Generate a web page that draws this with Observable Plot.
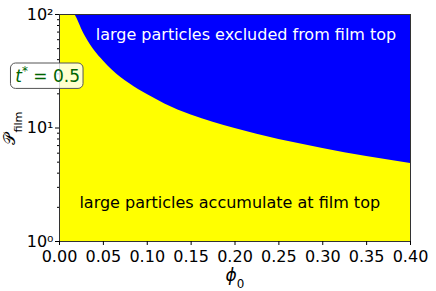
<!DOCTYPE html>
<html><head><meta charset="utf-8">
<script src="https://cdn.jsdelivr.net/npm/d3@7"></script>
<script src="https://cdn.jsdelivr.net/npm/@observablehq/plot@0.6"></script>
<style>body{margin:0;background:#fff}</style>
</head><body><div id="chart"></div>
<script>
// boundary curve
const phi   = [0.0175, 0.02, 0.025, 0.03, 0.04, 0.05, 0.06, 0.08, 0.10, 0.12, 0.15, 0.20, 0.25, 0.30, 0.35, 0.40];
const pFilm = [100,    92,   75,    63,   48,   39,   32.5, 24.5, 19.7, 16.3, 13.0, 9.9,  7.9,  6.6,  5.6,  4.87];
const xTicks = [0, 0.05, 0.10, 0.15, 0.20, 0.25, 0.30, 0.35, 0.40];
const yTicks = [1, 10, 100];
const yTickLabels = ["10⁰", "10¹", "10²"];
const yMinor = [2,3,4,5,6,7,8,9,20,30,40,50,60,70,80,90];
const regionLabels = ["large particles excluded from film top", "large particles accumulate at film top"];
const regionLabelColors = ["white", "black"];
const regionLabelPhi = [0.2125, 0.194];
const regionLabelP = [66, 2.2];
const timeLabel = "t* = 0.5";
const xLabel = "ϕ0";
const yLabel = "𝒫film";

const curve = phi.map((x, i) => ({phi: x, p: pFilm[i]}));
const labels = regionLabels.map((t, i) => ({t, c: regionLabelColors[i], x: regionLabelPhi[i], y: regionLabelP[i]}));

const chart = Plot.plot({
  width: 436, height: 291,
  marginLeft: 59, marginRight: 26, marginTop: 14, marginBottom: 50,
  style: {fontFamily: "DejaVu Sans", fontSize: "15px", background: "white", color: "black", overflow: "visible"},
  x: {domain: [0, 0.4]},
  y: {type: "log", domain: [1, 100]},
  marks: [
    Plot.frame({fill: "yellow", stroke: null}),
    Plot.areaY(curve, {x: "phi", y1: "p", y2: 100, fill: "blue", curve: "monotone-x"}),
    Plot.frame({stroke: "#333", strokeWidth: 1}),
    Plot.axisX({ticks: xTicks, tickFormat: d3.format(".2f"), tickSize: 4, tickPadding: 5, label: null, fontSize: 16}),
    Plot.axisY({ticks: yTicks, tickFormat: (d) => yTickLabels[yTicks.indexOf(d)], tickSize: 4, tickPadding: 2, label: null, fontSize: 16}),
    Plot.axisY({ticks: yMinor, tickFormat: () => "", tickSize: 2, label: null}),
    Plot.text(labels, {x: "x", y: "y", text: "t", fill: "c", fontSize: 16}),
    Plot.rect([0], {x1: -0.0553, x2: 0.0274, y1: 22.1, y2: 37, rx: 5, fill: "white", fillOpacity: 0.8, stroke: "#555", strokeWidth: 1, clip: false}),
    Plot.text([timeLabel], {x: -0.0135, y: 28.6, text: d => d, fill: "#006400", fontSize: 17}),
    Plot.text([xLabel], {frameAnchor: "bottom", dy: 39, text: d => d, fontSize: 17}),
    Plot.text([yLabel], {frameAnchor: "left", dx: -50, rotate: -90, textAnchor: "middle", text: d => d, fontSize: 16})
  ]
});
document.getElementById("chart").appendChild(chart);

// rich-text formatting for math labels
d3.select(chart).selectAll("text").each(function () {
  const el = d3.select(this);
  const s = this.textContent;
  if (s === timeLabel) {
    el.text(null);
    el.append("tspan").attr("font-style", "italic").text("t");
    el.append("tspan").attr("baseline-shift", "super").attr("font-size", "0.7em").text("*");
    el.append("tspan").text(" = 0.5");
  } else if (s === xLabel) {
    el.text(null);
    el.append("tspan").attr("font-style", "italic").text("ϕ");
    el.append("tspan").attr("baseline-shift", "sub").attr("font-size", "0.7em").text("0");
  } else if (s === yLabel) {
    el.text(null);
    el.append("tspan").text("𝒫");
    el.append("tspan").attr("baseline-shift", "sub").attr("font-size", "0.7em").text("film");
  }
});
</script>
</body></html>
